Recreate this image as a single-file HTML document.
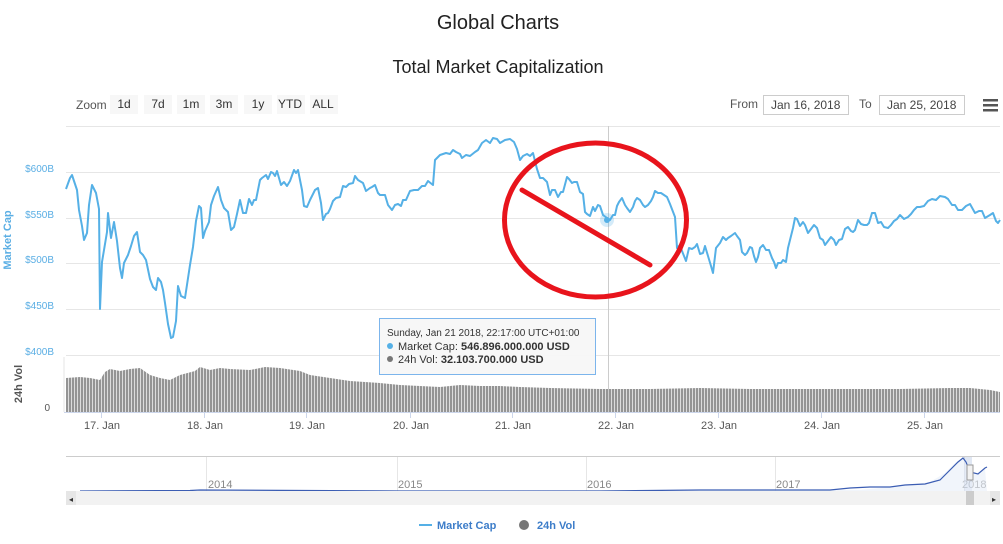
<!DOCTYPE html>
<html><head><meta charset="utf-8"><style>
html,body{margin:0;padding:0;background:#fff;width:1003px;height:544px;overflow:hidden}
svg{display:block;font-family:"Liberation Sans",sans-serif}
</style></head><body>
<svg width="1003" height="544" viewBox="0 0 1003 544" xmlns="http://www.w3.org/2000/svg">
<defs>
<pattern id="bars" width="3" height="10" patternUnits="userSpaceOnUse"><rect width="3" height="10" fill="#dcdcdc"/><rect width="2" height="10" fill="#949494"/></pattern>
</defs>
<text x="498" y="29" font-size="20" text-anchor="middle" fill="#222">Global Charts</text>
<text x="498" y="73" font-size="18" text-anchor="middle" fill="#222">Total Market Capitalization</text>
<text x="76" y="109" font-size="12" fill="#555">Zoom</text>
<g font-size="12" fill="#333" text-anchor="middle">
<rect x="110" y="95" width="28" height="19" fill="#f7f7f7"/><text x="124" y="108">1d</text>
<rect x="144" y="95" width="28" height="19" fill="#f7f7f7"/><text x="158" y="108">7d</text>
<rect x="177" y="95" width="28" height="19" fill="#f7f7f7"/><text x="191" y="108">1m</text>
<rect x="210" y="95" width="28" height="19" fill="#f7f7f7"/><text x="224" y="108">3m</text>
<rect x="244" y="95" width="28" height="19" fill="#f7f7f7"/><text x="258" y="108">1y</text>
<rect x="277" y="95" width="28" height="19" fill="#f7f7f7"/><text x="290" y="108">YTD</text>
<rect x="310" y="95" width="28" height="19" fill="#f7f7f7"/><text x="323" y="108">ALL</text>
</g>
<text x="730" y="108" font-size="12" fill="#555">From</text>
<rect x="763.5" y="95.5" width="85" height="19" fill="#fff" stroke="#ccc"/>
<text x="771" y="109" font-size="12" fill="#444">Jan 16, 2018</text>
<text x="859" y="108" font-size="12" fill="#555">To</text>
<rect x="879.5" y="95.5" width="85" height="19" fill="#fff" stroke="#ccc"/>
<text x="887" y="109" font-size="12" fill="#444">Jan 25, 2018</text>
<g fill="#555"><rect x="983" y="99" width="15" height="2.5"/><rect x="983" y="104" width="15" height="2.5"/><rect x="983" y="109" width="15" height="2.5"/></g>
<g stroke="#e6e6e6" stroke-width="1">
<line x1="66" y1="126.5" x2="1000" y2="126.5"/>
<line x1="66" y1="172.5" x2="1000" y2="172.5"/>
<line x1="66" y1="218.5" x2="1000" y2="218.5"/>
<line x1="66" y1="263.5" x2="1000" y2="263.5"/>
<line x1="66" y1="309.5" x2="1000" y2="309.5"/>
<line x1="66" y1="355.5" x2="1000" y2="355.5"/>
</g>
<g font-size="10" fill="#5aaee4" text-anchor="end">
<text x="54" y="172">$600B</text><text x="54" y="218">$550B</text><text x="54" y="263">$500B</text><text x="54" y="309">$450B</text><text x="54" y="355">$400B</text>
</g>
<text transform="translate(11,240) rotate(-90)" font-size="11" font-weight="bold" fill="#5aaee4" text-anchor="middle">Market Cap</text>
<text transform="translate(22,384) rotate(-90)" font-size="11" font-weight="bold" fill="#555" text-anchor="middle">24h Vol</text>
<text x="50" y="411" font-size="10" fill="#555" text-anchor="end">0</text>
<polygon fill="url(#bars)" points="66,412 66,378 80,377 90,378 100,380 105,372 110,369 120,371 130,369 140,368 150,375 160,378 170,380 180,375 195,371 200,367 210,370 220,368 230,369 250,370 265,367 280,368 300,371 310,375 330,378 350,381 380,383 400,385 420,386 440,387 460,385 480,386 500,386 520,387 550,388 600,389 650,389 700,388 750,389 800,389 850,389 900,389 950,388 970,388 990,390 1000,392 1000,412"/>
<line x1="64" y1="412.5" x2="1000" y2="412.5" stroke="#ccd6eb"/>
<line x1="64" y1="357" x2="64" y2="412" stroke="#e6e6e6"/>
<g stroke="#ccd6eb"><line x1="101.5" y1="412" x2="101.5" y2="418"/><line x1="204.5" y1="412" x2="204.5" y2="418"/><line x1="306.5" y1="412" x2="306.5" y2="418"/><line x1="410.5" y1="412" x2="410.5" y2="418"/><line x1="512.5" y1="412" x2="512.5" y2="418"/><line x1="615.5" y1="412" x2="615.5" y2="418"/><line x1="718.5" y1="412" x2="718.5" y2="418"/><line x1="821.5" y1="412" x2="821.5" y2="418"/><line x1="924.5" y1="412" x2="924.5" y2="418"/></g>
<g font-size="11" fill="#555" text-anchor="middle">
<text x="102" y="429">17. Jan</text><text x="205" y="429">18. Jan</text><text x="307" y="429">19. Jan</text><text x="411" y="429">20. Jan</text><text x="513" y="429">21. Jan</text><text x="616" y="429">22. Jan</text><text x="719" y="429">23. Jan</text><text x="822" y="429">24. Jan</text><text x="925" y="429">25. Jan</text>
</g>
<line x1="608.5" y1="126" x2="608.5" y2="412" stroke="#ccc"/>
<polyline fill="none" stroke="#55b0e6" stroke-width="2" stroke-linejoin="round" points="66,189 70,178 72,175 77,190 79,210 82,226 84,240 87,233 89,205 92,185 96,193 99,209 100,309 102,262 104,250 107,232 108,213 111,238 114,222 117,241 120,268 122,278 124,263 128,255 131,246 134,236 137,232 140,252 143,255 146,260 150,279 153,287 156,290 158,278 161,282 163,290 165,303 168,324 171,338 173,337 176,321 178,286 181,296 185,298 190,265 193,247 196,221 199,206 201,208 203,238 205,231 209,222 211,205 214,196 218,187 221,200 224,208 228,212 231,230 234,227 237,214 240,200 243,213 246,213 249,199 252,205 254,200 256,200 260,180 262,178 266,175 268,179 271,172 273,173 275,176 277,171 281,185 284,182 287,186 290,181 294,170 296,173 298,170 302,190 304,206 307,207 310,200 315,190 318,188 321,203 323,220 326,214 328,213 330,209 333,201 336,198 340,197 343,186 346,187 349,184 353,183 355,176 358,180 363,183 366,191 370,188 372,187 375,185 378,193 380,195 385,195 388,205 392,210 395,205 398,204 401,206 403,200 406,200 410,191 414,190 418,190 422,186 425,186 428,181 433,185 435,160 440,155 446,153 450,154 453,150 456,152 460,154 462,158 466,155 470,156 475,152 478,150 482,143 486,140 490,143 493,138 497,139 500,143 505,140 510,139 514,142 517,149 520,160 523,156 527,154 530,156 533,153 537,169 540,178 543,178 547,182 550,195 552,190 555,190 558,197 561,192 563,192 567,177 569,179 572,183 574,182 577,182 580,192 583,194 585,212 587,214 590,216 593,207 595,211 598,205 600,206 603,215 607,218 610,220 613,215 615,215 617,206 619,202 622,198 625,205 627,208 630,212 633,207 635,201 637,198 640,200 643,205 645,207 648,205 651,201 653,197 655,191 658,193 661,193 664,195 667,197 670,204 675,217 677,248 680,245 682,251 686,261 689,248 692,249 695,247 697,244 700,254 703,253 705,246 708,256 711,266 713,273 716,248 720,243 723,237 726,240 728,238 731,236 735,233 737,236 740,240 742,252 745,255 747,253 750,247 752,248 754,256 756,262 758,257 760,248 763,245 766,250 769,250 772,258 774,262 776,268 778,263 781,263 783,260 786,262 788,248 790,240 793,228 795,218 797,219 800,226 803,222 805,225 808,233 811,229 814,225 817,228 820,238 823,240 825,245 828,241 831,237 834,240 836,245 839,240 842,239 845,229 848,227 851,231 853,232 855,230 858,220 861,224 864,225 867,225 869,223 872,213 875,213 878,223 881,222 884,227 888,228 891,225 894,221 897,219 900,215 904,219 908,217 911,214 914,210 917,207 920,207 924,206 928,201 932,199 936,200 940,196 945,197 948,199 952,205 955,205 958,210 962,210 966,206 970,204 975,213 979,211 982,211 985,218 990,215 993,213 996,221 998,223 1000,220"/>
<circle cx="607" cy="220" r="7" fill="#55b0e6" opacity="0.25"/>
<circle cx="607" cy="220" r="3" fill="#55b0e6"/>
<ellipse cx="595.5" cy="220" rx="91" ry="77" fill="none" stroke="#e8141c" stroke-width="5"/>
<line x1="522" y1="190" x2="650" y2="265" stroke="#e8141c" stroke-width="5" stroke-linecap="round"/>
<rect x="379.5" y="318.5" width="216" height="56" fill="#f7f7f7" fill-opacity="0.95" stroke="#7cb5ec" stroke-width="1"/>
<text x="387" y="336" font-size="10" fill="#333">Sunday, Jan 21 2018, 22:17:00 UTC+01:00</text>
<circle cx="390" cy="346" r="3" fill="#55b0e6"/>
<text x="398" y="350" font-size="11" fill="#333">Market Cap: <tspan font-weight="bold">546.896.000.000 USD</tspan></text>
<circle cx="390" cy="359" r="3" fill="#777"/>
<text x="398" y="363" font-size="11" fill="#333">24h Vol: <tspan font-weight="bold">32.103.700.000 USD</tspan></text>
<line x1="66" y1="456.5" x2="1000" y2="456.5" stroke="#ccc"/>
<g stroke="#e6e6e6"><line x1="206.5" y1="457" x2="206.5" y2="491"/><line x1="397.5" y1="457" x2="397.5" y2="491"/><line x1="586.5" y1="457" x2="586.5" y2="491"/><line x1="775.5" y1="457" x2="775.5" y2="491"/><line x1="964.5" y1="457" x2="964.5" y2="491"/></g>
<g font-size="11" fill="#888"><text x="208" y="488">2014</text><text x="398" y="488">2015</text><text x="587" y="488">2016</text><text x="776" y="488">2017</text><text x="962" y="488">2018</text></g>
<rect x="964" y="457" width="8" height="34" fill="#6685c2" opacity="0.2"/>
<polygon fill="#e8eef8" opacity="0.6" points="80,491 860,490 880,488 900,486 930,482 945,473 955,463 963,458 968,466 975,474 985,469 987,491"/>
<polyline fill="none" stroke="#3b5db3" stroke-width="1.2" points="80,491 190,490.5 200,490 400,491 600,491 700,490 780,490 830,490 850,488 870,487 890,487 905,485 925,484 940,480 950,470 958,462 963,458 966,462 970,472 978,474 985,468 987,467"/>
<rect x="66" y="491" width="934" height="14" fill="#f2f2f2"/>
<rect x="66" y="491" width="10" height="14" fill="#e6e6e6"/><text x="69" y="502" font-size="8" fill="#333">◂</text>
<rect x="990" y="491" width="10" height="14" fill="#e6e6e6"/><text x="992" y="502" font-size="8" fill="#333">▸</text>
<rect x="966" y="491" width="8" height="14" fill="#ccc"/>
<rect x="967" y="465" width="6" height="15" fill="#f2f2f2" stroke="#999"/>
<line x1="419" y1="525" x2="432" y2="525" stroke="#55b0e6" stroke-width="2"/>
<text x="437" y="529" font-size="11" font-weight="bold" fill="#3d7dc9">Market Cap</text>
<circle cx="524" cy="525" r="5" fill="#777"/>
<text x="537" y="529" font-size="11" font-weight="bold" fill="#3d7dc9">24h Vol</text>
</svg>
</body></html>
